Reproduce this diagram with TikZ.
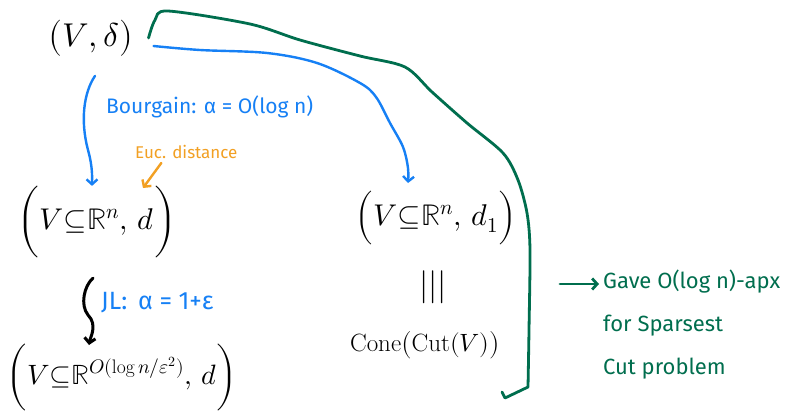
\documentclass[tikz,border=0pt]{standalone}
\usepackage{fontspec}
\usepackage{unicode-math}
\setmathfont{Latin Modern Math}
\setsansfont{Fira Sans}
\usetikzlibrary{arrows.meta}
\definecolor{hblue}{RGB}{22,128,245}
\definecolor{hgreen}{RGB}{0,110,78}
\definecolor{horange}{RGB}{242,160,35}
\tikzset{
  bigtxt/.style={font=\fontsize{33}{40}\selectfont, inner sep=0pt},
  midtxt/.style={font=\fontsize{30}{36}\selectfont, inner sep=0pt},
  lowtxt/.style={font=\fontsize{28}{34}\selectfont, inner sep=0pt},
  midtxtb/.style={font=\fontsize{25}{30}\selectfont, inner sep=0pt},
  bluelab/.style={text=hblue, font=\sffamily\fontsize{21}{24}\selectfont, inner sep=0pt},
  jllab/.style={text=hblue, font=\sffamily\fontsize{25}{28}\selectfont, inner sep=0pt},
  orangelab/.style={text=horange, font=\sffamily\fontsize{17}{20}\selectfont, inner sep=0pt},
  greenlab/.style={text=hgreen, font=\sffamily\fontsize{22}{43}\selectfont, inner sep=0pt, align=left},
  tipU/.style={-{Straight Barb[length=5pt,width=11pt]}},
  blueline/.style={draw=hblue, line width=2.4pt, line cap=round, line join=round},
  blackline/.style={draw=black, line width=3pt, line cap=round, line join=round},
  orangeline/.style={draw=horange, line width=2.4pt, line cap=round, line join=round},
  greenline/.style={draw=hgreen, line width=2.8pt, line cap=round, line join=round},
}
\begin{document}
\begin{tikzpicture}[x=1pt,y=-1pt]
\useasboundingbox[fill=white] (0,0) rectangle (791,416);
% nodes
\node[bigtxt] (n1) at (91,38) {$\bigl(V,\delta\bigr)$};
\node[midtxt] (n2) at (97,222) {$\biggl(V{\subseteq}\mathbb{R}^{n},\,d\biggr)$};
\node[lowtxt] (n3) at (122,377) {$\biggl(V{\subseteq}\mathbb{R}^{O(\log n/\varepsilon^{2})},\,d\biggr)$};
\node[midtxt] (n4) at (436,218) {$\Bigl(V{\subseteq}\mathbb{R}^{n},\,d_{1}\Bigr)$};
\node[bigtxt] (n5) at (433,287) {$|||$};
\node[midtxtb] (n6) at (425,345) {$\mathrm{Cone}\bigl(\mathrm{Cut}(V)\bigr)$};
% labels
\node[bluelab, anchor=west] (lb) at (106,107) {Bourgain: α = O(log n)};
\node[orangelab, anchor=west] (le) at (135,152) {Euc. distance};
\node[jllab, anchor=west] (lj) at (101,303) {JL:\, α = 1+ε};
\node[greenlab, anchor=north west] (lg) at (603,270) {Gave O(log n)-apx\\for Sparsest\\Cut problem};
% blue: (V,delta) -> (V in R^n, d)
\coordinate (b1s) at ([shift={(4,18)}]n1.south);
\draw[blueline, tipU] (b1s) .. controls (84,92) and (80,120) .. (88,150)
   .. controls (93,168) and (92,178) .. (n2.north -| 92,0);
% blue: (V,delta) -> (V in R^n, d_1)
\coordinate (b2s) at ([shift={(20,8)}]n1.east);
\draw[blueline, tipU] plot[smooth, tension=0.55] coordinates
   {(b2s) (200,50) (267,53) (317,63) (360,83) (376,97) (390,123) (403,147) (408,168) (408,183)};
% orange: label -> (V in R^n, d)
\draw[orangeline, tipU] ([shift={(-25,4)}]le.south) -- (143,188);
% black squiggle: (V in R^n,d) -> (V in R^O(...), d)
\coordinate (s1) at ([shift={(-4,20)}]n2.south);
\draw[blackline, tipU] (s1) .. controls (84,286) and (80,305) .. (88,315)
   .. controls (98,325) and (90,338) .. (89,345);
% green bracket
\coordinate (gs) at ([shift={(15,0)}]n1.east);
\coordinate (ge) at (502,392);
\draw[greenline] plot[smooth, tension=0.5] coordinates
   {(gs) (155,20) (168,11) (250,24) (300,40) (360,56) (405,67) (432,92) (467,123) (503,153) (518,180) (527,213) (530,250) (529,330) (528,387)}
   -- (505,398) -- (ge);
% green arrow to text
\coordinate (ga) at (560,284);
\draw[greenline, tipU] (ga) -- ([xshift=-4pt]ga -| lg.west);
\end{tikzpicture}
\end{document}
